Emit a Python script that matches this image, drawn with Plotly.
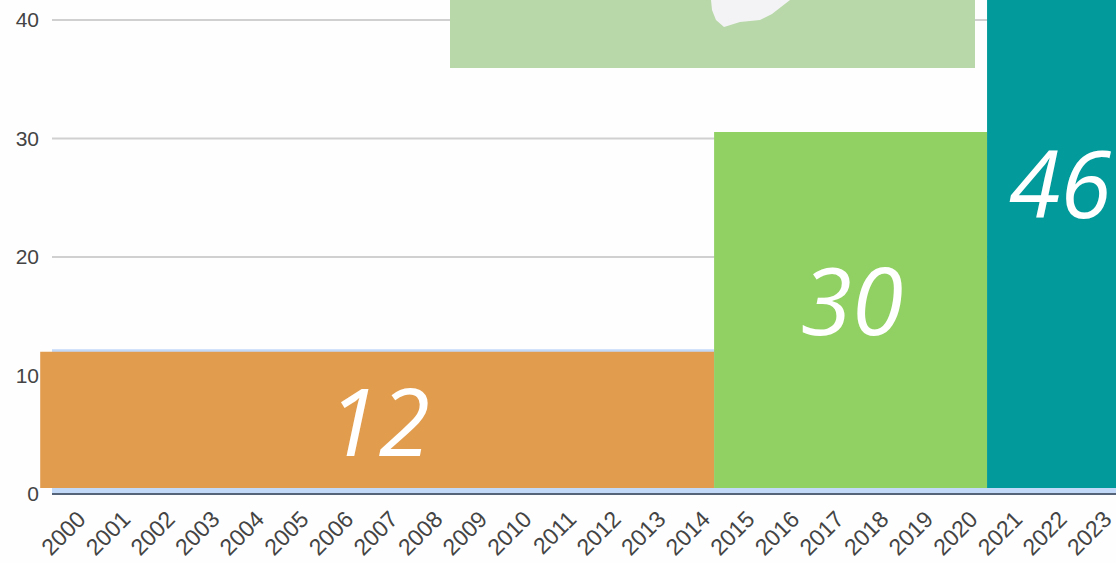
import plotly.graph_objects as go

years = list(range(2000, 2024))
background_level = [12.22]
period_labels = ["12", "30", "46"]
period_start = [1999.13, 2014.24, 2020.36]
period_end = [2014.24, 2020.36, 2024.1]
period_top = [12.0, 30.55, 52.0]
period_base = 0.5
period_colors = ["#E19C4E", "#91D063", "#029A9A"]
label_x = [2006.72, 2017.33, 2022.0]
label_y = [5.14, 15.4, 25.24]
y_ticks = [0, 10, 20, 30, 40]

W, H = 1116, 563
LEFT, BOTTOM = 40, 63
BAND = 44.6
PX_PER_UNIT = 11.85
x_min = 2000 - (79 - LEFT) / BAND
x_max = x_min + (W - LEFT) / BAND
y_min = -6 / PX_PER_UNIT
y_max = 494 / PX_PER_UNIT
bg_start = 2000 - (79 - 52) / BAND


def px(x):
    return (x - LEFT) / (W - LEFT)


def py(y):
    return 1 - y / (H - BOTTOM)


fig = go.Figure()
fig.add_trace(go.Bar(x=[(bg_start + x_max) / 2], y=background_level, width=[x_max - bg_start],
                     marker=dict(color="#C3D9F8", line_width=0), hoverinfo="skip"))
fig.add_trace(go.Bar(
    x=[(a + b) / 2 for a, b in zip(period_start, period_end)],
    y=[t - period_base for t in period_top],
    base=period_base,
    width=[b - a for a, b in zip(period_start, period_end)],
    marker=dict(color=period_colors, line_width=0),
    cliponaxis=False, hoverinfo="skip",
))
fig.add_trace(go.Scatter(
    x=label_x, y=label_y, mode="text", text=period_labels,
    textfont=dict(family="Open Sans", size=93, color="#FFFFFF", style="italic"),
    textposition="middle center", cliponaxis=False, hoverinfo="skip",
))

shapes = []
for t in y_ticks[1:]:
    shapes.append(dict(type="line", xref="paper", yref="y", layer="below", x0=px(52), x1=1, y0=t, y1=t,
                       line=dict(color="#D0D0D0", width=2)))
shapes.append(dict(type="line", xref="paper", yref="y", layer="above", x0=px(52), x1=1, y0=0, y1=0,
                   line=dict(color="#56647A", width=2)))
shapes.append(dict(type="rect", xref="paper", yref="paper", layer="above", line_width=0, fillcolor="#B8D8A9",
                   x0=px(450), x1=px(975), y0=py(68), y1=py(0)))
blob = [(711, 0), (712, 10), (716, 20), (724, 27), (740, 22), (760, 20), (772, 14), (790, 0)]
path = "M " + " L ".join(f"{px(a):.5f},{py(b):.5f}" for a, b in blob) + " Z"
shapes.append(dict(type="path", xref="paper", yref="paper", layer="above", path=path, fillcolor="#F3F3F5", line_width=0))

fig.update_layout(
    width=W, height=H, barmode="overlay", showlegend=False,
    paper_bgcolor="#FEFEFE", plot_bgcolor="#FEFEFE",
    margin=dict(l=LEFT, r=0, t=0, b=BOTTOM, pad=0, autoexpand=False),
    shapes=shapes,
    xaxis=dict(range=[x_min, x_max], tickmode="array", tickvals=years, ticktext=[str(y) for y in years],
               tickangle=-45, showgrid=False, ticks="", zeroline=False, ticklabeloverflow="allow", automargin=False,
               tickfont=dict(family="Liberation Sans", size=23, color="#444444")),
    yaxis=dict(range=[y_min, y_max], tickmode="array", tickvals=y_ticks, showgrid=False,
               zeroline=False, ticks="", automargin=False,
               tickfont=dict(family="Liberation Sans", size=21, color="#444444")),
)
fig.write_html("out.html", config={"displayModeBar": False},
               post_script="document.body.style.margin='0';document.body.style.overflow='hidden';")
